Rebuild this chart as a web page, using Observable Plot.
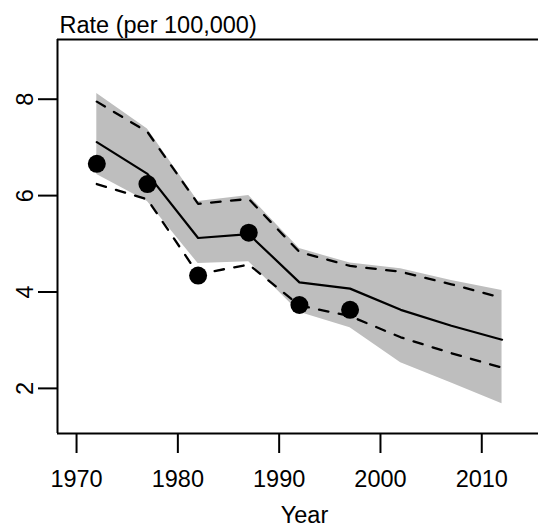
<!DOCTYPE html>
<html><head><meta charset="utf-8">
<script src="https://cdn.jsdelivr.net/npm/d3@7"></script>
<script src="https://cdn.jsdelivr.net/npm/@observablehq/plot@0.6"></script>
<style>html,body{margin:0;padding:0;background:#fff;overflow:hidden}</style>
</head><body><div id="chart"></div>
<script>
// Fitted series (5-year steps)
const years = [1972, 1977, 1982, 1987, 1992, 1997, 2002, 2007, 2012];
const fit = [7.11, 6.45, 5.12, 5.20, 4.20, 4.07, 3.63, 3.30, 3.01];
const upperDash = [7.95, 7.32, 5.83, 5.93, 4.83, 4.54, 4.42, 4.16, 3.88];
const lowerDash = [6.24, 5.92, 4.37, 4.57, 3.72, 3.50, 3.06, 2.73, 2.43];
const bandHigh = [8.12, 7.38, 5.88, 6.00, 4.90, 4.60, 4.48, 4.24, 4.03];
const bandLow = [6.44, 5.88, 4.59, 4.63, 3.58, 3.26, 2.53, 2.11, 1.68];
// Observed rates
const obsYears = [1972, 1977, 1982, 1987, 1992, 1997];
const observed = [6.66, 6.24, 4.34, 5.23, 3.73, 3.63];
// Axes
const xTicks = [1970, 1980, 1990, 2000, 2010];
const yTicks = [2, 4, 6, 8];
const xDomain = [1968.12, 2015.6];
const yDomain = [1.064, 9.239];
const xLabelCenter = 1992.5;
const yTitle = "Rate (per 100,000)";
const xTitle = "Year";

const font = "'Liberation Sans', Arial, Helvetica, sans-serif";

const fitRows = years.map((year, i) => ({year, fit: fit[i], lo: lowerDash[i], hi: upperDash[i], bLo: bandLow[i], bHi: bandHigh[i]}));
const obsRows = obsYears.map((year, i) => ({year, rate: observed[i]}));

const chart = Plot.plot({
  width: 538, height: 528,
  marginLeft: 57, marginRight: 0, marginTop: 39, marginBottom: 95,
  style: {fontFamily: font, fontSize: "23.5px", background: "#fff", color: "#000", overflow: "hidden"},
  x: {domain: xDomain, axis: null},
  y: {domain: yDomain, axis: null},
  marks: [
    Plot.areaY(fitRows, {x: "year", y1: "bLo", y2: "bHi", fill: "#bebebe"}),
    Plot.lineY(fitRows, {x: "year", y: "hi", stroke: "#000", strokeWidth: 2.3, strokeDasharray: "9.5,10.5"}),
    Plot.lineY(fitRows, {x: "year", y: "lo", stroke: "#000", strokeWidth: 2.3, strokeDasharray: "9.5,10.5"}),
    Plot.lineY(fitRows, {x: "year", y: "fit", stroke: "#000", strokeWidth: 2.2}),
    Plot.dot(obsRows, {x: "year", y: "rate", r: 9, fill: "#000"}),
    Plot.ruleX([xDomain[0]], {stroke: "#000", strokeWidth: 2}),
    Plot.ruleY([yDomain[0], yDomain[1]], {stroke: "#000", strokeWidth: 2}),
    Plot.axisX({ticks: xTicks, tickSize: 20, tickPadding: 17, tickFormat: "d", fontSize: 23.5, label: null, strokeWidth: 2}),
    Plot.axisY({ticks: yTicks, tickSize: 19, tickFormat: () => "", label: null, strokeWidth: 2}),
    Plot.text(yTicks, {x: xDomain[0], y: d => d, text: d => String(d), rotate: -90, lineAnchor: "bottom", textAnchor: "middle", dx: -25, fontSize: 23.5}),
    Plot.text([yTitle], {frameAnchor: "top-left", textAnchor: "start", lineAnchor: "bottom", dx: 2, dy: -7, fontSize: 23.5}),
    Plot.text([xTitle], {x: xLabelCenter, frameAnchor: "bottom", textAnchor: "middle", lineAnchor: "bottom", dy: 89, fontSize: 23.5})
  ]
});
document.getElementById("chart").appendChild(chart);
</script>
</body></html>
